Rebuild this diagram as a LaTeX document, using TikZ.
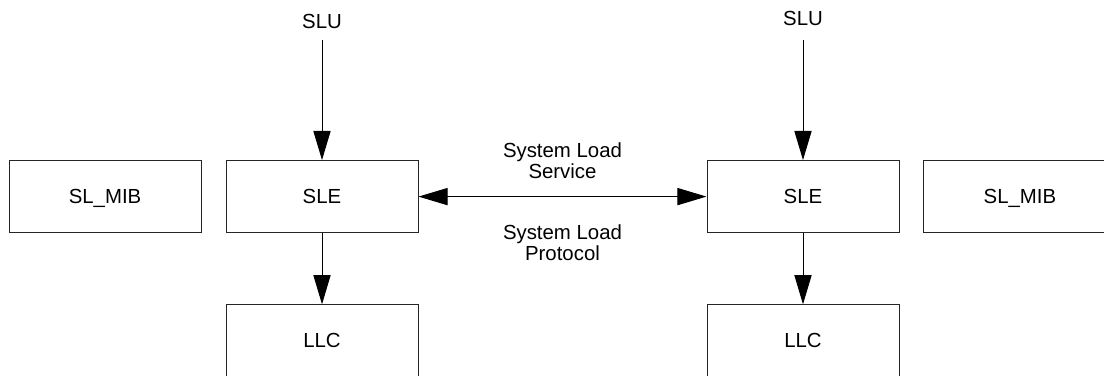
\documentclass[tikz,border=0pt]{standalone}
\usepackage{fontspec}
\setmainfont{Liberation Sans}
\usetikzlibrary{arrows.meta, positioning}
\tikzset{%
    blk/.style={draw=black!85, line width=0.7pt, minimum width=4.8cm, minimum height=1.8cm, inner sep=0pt, text depth=0pt},
    lbl/.style={inner sep=0pt, align=center},
    con/.style={line width=0.7pt, -{Triangle[length=0.73cm, width=0.43cm]}},
    dcon/.style={line width=0.7pt, {Triangle[length=0.73cm, width=0.43cm]}-{Triangle[length=0.73cm, width=0.43cm]}},
}

\begin{document}
\begin{tikzpicture}[font=\fontsize{14.5}{15}\selectfont]
    \useasboundingbox (0,0) rectangle (27.6,9.375);
    % left station
    \node [blk] (sleA) at (8.05,4.46) {SLE};
    \node [blk, left=0.6cm of sleA] (mibA) {SL\_MIB};
    \node [blk, below=1.78cm of sleA] (llcA) {LLC};
    \node [lbl, above=3.27cm of sleA] (sluA) {SLU};
    % right station
    \node [blk, right=7.2cm of sleA] (sleB) {SLE};
    \node [blk, right=0.6cm of sleB] (mibB) {SL\_MIB};
    \node [blk, below=1.78cm of sleB] (llcB) {LLC};
    \node [lbl, above=3.35cm of sleB] (sluB) {SLU};
    \draw [con, shorten <=0.27cm] (sluA) -- (sleA);
    \draw [con] (sleA) -- (llcA);
    \draw [con, shorten <=0.35cm] (sluB) -- (sleB);
    \draw [con] (sleB) -- (llcB);
    \draw [dcon] (sleA) -- (sleB)
        node [lbl, midway, above=0.44cm] {System Load\\Service}
        node [lbl, midway, below=0.7cm] {System Load\\Protocol};
\end{tikzpicture}
\end{document}
